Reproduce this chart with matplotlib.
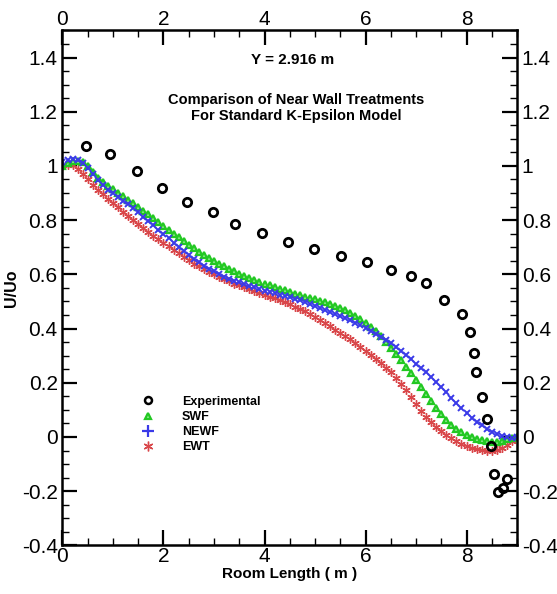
import matplotlib
matplotlib.use('Agg')
import matplotlib.pyplot as plt
from matplotlib.lines import Line2D
from matplotlib.ticker import MultipleLocator
import numpy as np

plt.rcParams['font.family'] = ['Liberation Sans Narrow', 'Liberation Sans', 'DejaVu Sans']

# Experimental data
exp_x = [0.47, 0.95, 1.47, 1.98, 2.46, 2.98, 3.41, 3.96, 4.47, 4.99, 5.52, 6.02,
         6.50, 6.90, 7.20, 7.55, 7.91, 8.06, 8.14, 8.19, 8.30, 8.40, 8.48, 8.54,
         8.63, 8.73, 8.81]
exp_y = [1.075, 1.044, 0.980, 0.920, 0.868, 0.829, 0.785, 0.754, 0.718, 0.694,
         0.669, 0.647, 0.616, 0.595, 0.567, 0.506, 0.454, 0.386, 0.309, 0.241,
         0.149, 0.065, -0.033, -0.137, -0.204, -0.189, -0.156]

# model results, sampled every 0.1 m from 0 to 9 m
model_x = np.round(np.arange(0, 9.01, 0.1), 2)

swf = [1.000, 1.010, 1.018, 1.020, 1.013, 1.000, 0.978, 0.955, 0.940, 0.927,
       0.914, 0.901, 0.888, 0.875, 0.862, 0.849, 0.835, 0.821, 0.807, 0.793,
       0.778, 0.764, 0.750, 0.736, 0.722, 0.709, 0.696, 0.684, 0.672, 0.661,
       0.650, 0.639, 0.629, 0.620, 0.611, 0.602, 0.594, 0.586, 0.578, 0.571,
       0.565, 0.559, 0.553, 0.547, 0.541, 0.535, 0.529, 0.523, 0.518, 0.513,
       0.508, 0.503, 0.497, 0.491, 0.484, 0.477, 0.468, 0.459, 0.448, 0.436,
       0.422, 0.407, 0.390, 0.372, 0.352, 0.330, 0.307, 0.284, 0.260, 0.235,
       0.210, 0.185, 0.160, 0.133, 0.108, 0.085, 0.064, 0.046, 0.031, 0.018,
       0.008, 0.000, -0.007, -0.012, -0.015, -0.017, -0.017, -0.014, -0.009, -0.004,
       0.000]

newf = [1.015, 1.022, 1.025, 1.022, 1.010, 0.993, 0.972, 0.948, 0.928, 0.913,
        0.899, 0.885, 0.872, 0.858, 0.844, 0.829, 0.813, 0.797, 0.781, 0.765,
        0.749, 0.733, 0.717, 0.702, 0.687, 0.672, 0.658, 0.644, 0.632, 0.621,
        0.611, 0.601, 0.592, 0.584, 0.577, 0.570, 0.564, 0.558, 0.552, 0.546,
        0.540, 0.535, 0.530, 0.525, 0.520, 0.515, 0.510, 0.505, 0.499, 0.492,
        0.484, 0.476, 0.469, 0.462, 0.454, 0.446, 0.438, 0.430, 0.421, 0.412,
        0.402, 0.392, 0.381, 0.370, 0.358, 0.345, 0.331, 0.317, 0.302, 0.287,
        0.271, 0.255, 0.239, 0.222, 0.204, 0.186, 0.166, 0.145, 0.125, 0.106,
        0.088, 0.071, 0.056, 0.043, 0.031, 0.020, 0.011, 0.005, 0.001, -0.002,
        0.000]

ewt = [1.000, 1.003, 1.002, 0.990, 0.970, 0.950, 0.930, 0.912, 0.895, 0.879,
       0.863, 0.847, 0.831, 0.815, 0.800, 0.785, 0.770, 0.756, 0.742, 0.729,
       0.716, 0.703, 0.690, 0.677, 0.664, 0.652, 0.640, 0.629, 0.619, 0.609,
       0.600, 0.591, 0.582, 0.574, 0.566, 0.559, 0.552, 0.545, 0.538, 0.531,
       0.525, 0.518, 0.511, 0.504, 0.497, 0.489, 0.481, 0.474, 0.465, 0.455,
       0.444, 0.432, 0.420, 0.408, 0.396, 0.384, 0.372, 0.360, 0.346, 0.332,
       0.318, 0.303, 0.288, 0.272, 0.256, 0.238, 0.218, 0.196, 0.172, 0.147,
       0.121, 0.095, 0.075, 0.056, 0.038, 0.022, 0.008, -0.004, -0.015, -0.025,
       -0.033, -0.040, -0.045, -0.049, -0.051, -0.051, -0.048, -0.040, -0.028, -0.014,
       0.000]

labels = ['Experimental', 'SWF', 'NEWF', 'EWT']

GREEN = '#22c822'
BLUE = '#3a3ae8'
RED = '#d9474a'

fig = plt.figure(figsize=(5.57, 5.94), dpi=100)
ax = fig.add_axes([0.1122, 0.0818, 0.816, 0.867])

ax.plot(model_x, ewt, ls='none', marker=(6, 2, 0), ms=6, mew=1.0, color=RED)
ax.plot(model_x, swf, ls='none', marker='^', ms=5, mew=1.6, mfc='#8fe88f', mec=GREEN)
ax.plot(model_x, newf, ls='none', marker='x', ms=5, mew=1.4, color=BLUE)
ax.plot(exp_x, exp_y, ls='none', marker='o', ms=6, mew=2.0, mfc='none', mec='black')

ax.set_xlim(0, 9)
ax.set_ylim(-0.4, 1.5)
ax.xaxis.set_major_locator(MultipleLocator(2))
ax.xaxis.set_minor_locator(MultipleLocator(0.5))
ax.yaxis.set_major_locator(MultipleLocator(0.2))
ax.yaxis.set_minor_locator(MultipleLocator(0.05))
ax.yaxis.set_major_formatter(plt.FuncFormatter(lambda v, p: f'{v:g}'))
ax.tick_params(which='both', direction='in', top=True, right=True,
               labeltop=True, labelright=True, labelsize=15, width=1.6)
ax.tick_params(which='major', length=11)
ax.tick_params(which='minor', length=5, width=1.0)
ax.tick_params(axis='x', which='major', pad=1)
for s in ax.spines.values():
    s.set_linewidth(1.8)

ax.set_xlabel('Room Length ( m )', fontsize=11, fontweight='bold', labelpad=1)
ax.set_ylabel('U/Uo', fontsize=11.5, fontweight='bold', labelpad=2)

ax.text(4.55, 1.39, 'Y = 2.916 m', ha='center', va='center', fontsize=11, fontweight='bold')
ax.text(4.62, 1.215, 'Comparison of Near Wall Treatments\nFor Standard K-Epsilon Model',
        ha='center', va='center', fontsize=10.5, fontweight='bold', linespacing=1.2)

handles = [
    Line2D([], [], ls='none', marker='o', ms=5, mew=1.8, mfc='none', mec='black'),
    Line2D([], [], ls='none', marker='^', ms=5, mew=1.6, mfc='#8fe88f', mec=GREEN),
    Line2D([], [], ls='none', marker='+', ms=8, mew=1.6, color=BLUE),
    Line2D([], [], ls='none', marker=(6, 2, 0), ms=7, mew=1.0, color=RED),
]
leg = ax.legend(handles, labels, loc='upper left', bbox_to_anchor=(1.45, 0.175),
                bbox_transform=ax.transData, frameon=False, handlelength=1.0,
                handletextpad=2.2, labelspacing=0.25, borderpad=0,
                prop={'weight': 'bold', 'size': 9})

fig.savefig('out.png', dpi=100)
